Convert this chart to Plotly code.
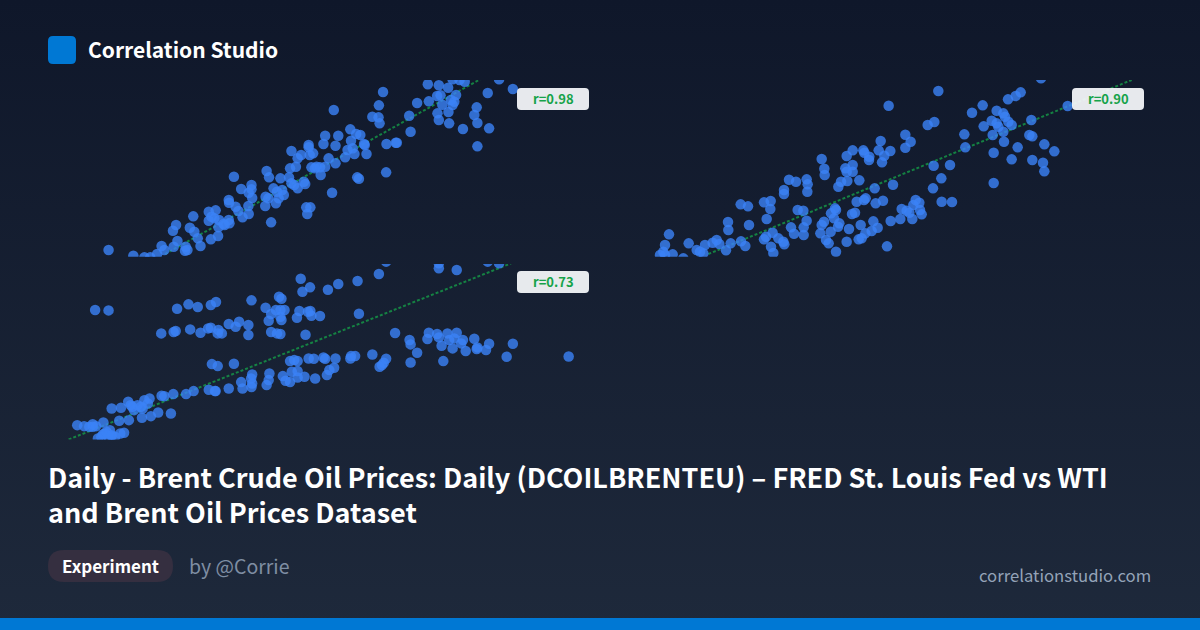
import base64
import plotly.graph_objects as go

W, H = 1200, 630

panel_a_x = [141,213,245,262,282,295,303,330,341,365,370,363,400,408,438,459,328,337,377,390,387,
432,452,440,448,432,462,478,490,492,460,475,
490,491,510,518,530,548,547,558,548,526,556,556,505,600,607,597,605,596,627,613,
620,640,630,645,650,635,665,672,680,690,708,712,668,685,690,700,725,735,745,740,730,755,757,770,780,800,672,722,722,765,800,770,808,843,828,835,845,850,855,860,872,883,885,890,790,715,727,718,863,868,947,948,975,978,1018,907,925,928,926,795,938,1014,1037,1071,1068,1100,1127,1095,1105,1096,1100,1128,1130,1170,1212,1203,1210,1246,1212,1242,1315,1275,1110,1135,1145,1150,1140,1175,1160,1140]
panel_a_y = [30,13,8,8,18,42,30,40,57,40,30,28,65,42,62,72,88,105,97,85,131,
145,149,130,125,118,120,105,120,110,98,108,
180,172,160,147,128,138,162,186,202,213,225,212,250,267,248,190,185,162,170,113,
215,245,205,210,195,185,248,230,225,215,235,228,275,280,305,315,315,320,280,275,278,278,255,280,305,290,327,345,338,348,343,373,373,392,308,330,358,335,318,378,375,348,345,318,202,158,158,138,248,244,263,348,352,352,385,430,428,410,464,450,504,433,471,476,527,524,517,492,494,440,420,444,410,393,411,435,458,395,341,501,513,542,466,480,475,495,465,535,540,542]

panel_b_x = [87,75,70,60,75,98,130,146,170,180,195,190,218,230,238,258,272,303,316,264,265,327,302,324,372,392,391,380,372,378,398,393,400,415,433,430,453,462,491,491,500,473,490,432,432,447,468,500,503,502,545,553,554,541,545,552,558,566,572,588,620,627,594,598,573,585,588,582,595,603,622,616,620,638,638,658,620,638,670,673,688,687,716,733,726,751,722,796,812,796,704,759,650,677,672,707,729,636,645,662,700,713,695,676,665,656,752,781,817,741,785,800,808,827,838,820,840,845,863,883,895,746,881,930,904,879,905,936,973,976,1058,1031,996,1028,1070,1090,1095,1055,1070,1075,1105,1115,1090,1092,1133,1061,1115,1177,1209,1213,1061,1213,1243,1168,1177,1174,1104,1127,1142,1283,1203]
panel_b_y = [77,45,25,15,15,17,5,50,30,25,45,20,52,60,48,29,50,56,42,114,90,105,167,161,173,177,153,123,62,70,82,40,21,65,47,55,98,79,75,98,118,150,148,210,198,241,235,242,227,205,303,274,255,80,105,115,60,50,85,25,55,93,100,110,140,155,150,125,220,235,237,275,265,285,265,239,312,329,329,322,310,300,329,313,293,327,357,376,355,337,215,226,175,185,180,170,178,138,142,105,116,97,87,80,65,62,117,123,123,41,153,148,142,180,172,165,150,137,405,414,507,463,283,285,245,215,175,174,377,338,375,401,442,464,448,440,430,418,410,400,415,405,385,355,338,322,302,300,292,266,231,347,326,375,371,420,482,492,503,462,545]

panel_c_x = [102,141,340,373,400,438,453,556,636,643,699,704,726,778,808,864,926,947,1100,1152,1100,1242,1275,
597,613,627,640,652,606,640,643,695,688,720,727,730,755,868,
294,330,336,378,408,430,438,460,458,470,490,510,520,547,547,613,630,640,713,
973,1015,1018,1067,1071,1095,1100,1108,1125,1130,1140,1152,1145,1170,1178,1165,1203,1212,1210,1237,1246,1315,1297,1477,1113,1018,1037,
441,458,505,668,680,690,722,737,765,770,800,843,845,857,907,947,940,928,935,
558,555,526,530,558,556,490,452,450,432,388,366,608,606,600,647,655,668,673,690,690,710,741,775,782,796,
329,295,303,322,285,264,238,200,172,126,
198,210,215,225,240,245,260,255,150,177,50,70,95,95,186,175,130,145,150,120,140,160,110,125,135,150,205,235,85,105]
panel_c_y = [420,419,424,437,429,435,444,449,460,454,514,475,488,481,498,507,528,565,545,540,560,565,560,
427,408,420,420,420,388,400,390,417,397,415,417,403,402,409,
350,354,357,362,352,365,367,360,350,350,378,370,385,375,345,354,350,348,346,
351,330,317,333,352,348,338,313,350,330,305,352,335,330,297,320,334,308,303,300,319,319,280,281,267,263,292,
258,252,259,267,270,267,275,274,278,274,275,275,282,282,287,274,262,250,255,
227,215,204,185,200,189,185,177,177,181,177,168,230,210,195,222,208,204,235,237,218,220,215,225,240,247,
168,163,162,110,113,102,97,90,88,83,
145,130,120,135,125,150,155,140,125,127,75,72,78,70,52,50,50,60,45,40,40,40,35,48,55,42,135,130,70,72]

trend_a_x, trend_a_y = [305,1220], [18,542]
trend_b_x, trend_b_y = [205,1475], [18,540]
trend_c_x, trend_c_y = [25,1310], [32,560]

badge_labels = ["r=0.98", "r=0.90", "r=0.73"]
title_lines = ["Daily - Brent Crude Oil Prices: Daily (DCOILBRENTEU) – FRED St. Louis Fed vs WTI",
               "and Brent Oil Prices Dataset"]

FONT = "Noto Sans CJK SC"
BLUE = "#3b82f6"
GREEN = "#16a34a"
ACCENT = "#0078d4"


def px(x):
    return x / W


def py(y):
    return 1 - y / H


def rrect(x0, y0, x1, y1, r, fill, opacity=1.0):
    yt, yb = py(y0), py(y1)
    rx, ry = r / W, r / H
    a, b = px(x0), px(x1)
    path = (f"M {a+rx} {yt} L {b-rx} {yt} Q {b} {yt} {b} {yt-ry} L {b} {yb+ry} Q {b} {yb} {b-rx} {yb} "
            f"L {a+rx} {yb} Q {a} {yb} {a} {yb+ry} L {a} {yt-ry} Q {a} {yt} {a+rx} {yt} Z")
    return dict(type="path", xref="paper", yref="paper", path=path, fillcolor=fill,
                line=dict(width=0), opacity=opacity, layer="above")


def text(x, y, s, size, color, weight=400, anchor="left"):
    return dict(xref="paper", yref="paper", x=px(x), y=py(y), text=s, showarrow=False,
                xanchor=anchor, yanchor="middle", align=anchor,
                font=dict(family=FONT, size=size, color=color, weight=weight))


svg = (f'<svg xmlns="http://www.w3.org/2000/svg" width="{W}" height="{H}">'
       '<defs><linearGradient id="g" x1="0" y1="0" x2="0" y2="1">'
       '<stop offset="0" stop-color="#0f172a"/><stop offset="1" stop-color="#1e293b"/>'
       '</linearGradient></defs>'
       f'<rect width="{W}" height="{H}" fill="url(#g)"/></svg>')
bg_uri = "data:image/svg+xml;base64," + base64.b64encode(svg.encode()).decode()

fig = go.Figure()

panels = [
    ("x", "y", panel_a_x, panel_a_y, trend_a_x, trend_a_y, (60, 600), (80, 256.7), 1568, (10, 540)),
    ("x2", "y2", panel_b_x, panel_b_y, trend_b_x, trend_b_y, (640, 1160), (80, 256.7), 1560, (10, 540)),
    ("x3", "y3", panel_c_x, panel_c_y, trend_c_x, trend_c_y, (60, 600), (264, 439.5), 1568, (32, 558)),
]

layout_axes = {}
for xa, ya, xs, ys, tx, ty, xd, yd, xmax, yr in panels:
    fig.add_trace(go.Scatter(x=tx, y=ty, xaxis=xa, yaxis=ya, mode="lines", hoverinfo="skip",
                             line=dict(color=GREEN, width=2, dash="3px,2px"), opacity=0.75))
    fig.add_trace(go.Scatter(x=xs, y=ys, xaxis=xa, yaxis=ya, mode="markers", hoverinfo="skip",
                             marker=dict(color=BLUE, size=10.5, opacity=0.8, line=dict(width=0))))
    xn = "xaxis" + xa[1:]
    yn = "yaxis" + ya[1:]
    layout_axes[xn] = dict(domain=[px(xd[0]), px(xd[1])], range=[0, xmax], visible=False, fixedrange=True)
    layout_axes[yn] = dict(domain=[py(yd[1]), py(yd[0])], range=list(yr), visible=False, fixedrange=True)

shapes = [
    dict(type="rect", xref="paper", yref="paper", x0=0, x1=1, y0=0, y1=py(618), fillcolor=ACCENT,
         line=dict(width=0), layer="above"),
    rrect(48, 36, 76, 64, 5, ACCENT),
    rrect(48, 550, 173, 582, 16, "#352f40"),
    rrect(517, 88, 589, 110, 4, "#f8fafc", 0.93),
    rrect(1072, 88, 1144, 110, 4, "#f8fafc", 0.93),
    rrect(517, 271, 589, 293, 4, "#f8fafc", 0.93),
]

annotations = [
    text(86, 49, "Correlation Studio", 21, "#ffffff", 700),
    text(46, 493.5, "<br>".join(title_lines), 27, "#ffffff", 700),
    text(60, 565, "Experiment", 17, "#ffffff", 700),
    text(187, 565, "by @Corrie", 19.5, "#7f8ea3"),
    text(1153, 574.5, "correlationstudio.com", 16.7, "#94a3b8", 400, "right"),
    text(553, 98.5, badge_labels[0], 13, GREEN, 700, "center"),
    text(1108, 98.5, badge_labels[1], 13, GREEN, 700, "center"),
    text(553, 281.5, badge_labels[2], 13, GREEN, 700, "center"),
]

fig.update_layout(
    width=W, height=H, margin=dict(l=0, r=0, t=0, b=0), showlegend=False,
    paper_bgcolor="#0f172a", plot_bgcolor="rgba(0,0,0,0)",
    images=[dict(source=bg_uri, xref="paper", yref="paper", x=0, y=1, sizex=1, sizey=1,
                 xanchor="left", yanchor="top", sizing="stretch", layer="below")],
    shapes=shapes, annotations=annotations, **layout_axes,
)

fig.write_html("out.html", config=dict(displayModeBar=False, staticPlot=True),
               post_script="document.body.style.margin='0';document.body.style.overflow='hidden';")
